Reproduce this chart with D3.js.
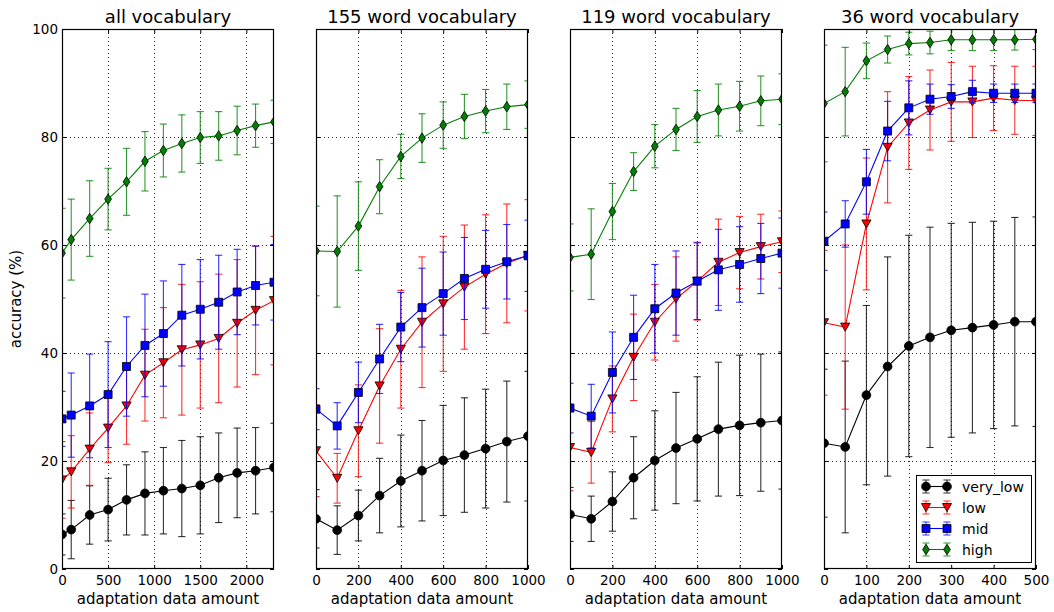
<!DOCTYPE html>
<html><head><meta charset="utf-8">
<script src="https://cdn.jsdelivr.net/npm/d3@7"></script>
<style>
body{margin:0;background:#fff}
svg{display:block}
text{font-family:"DejaVu Sans",sans-serif;fill:#000}
</style>
</head><body>
<svg id="chart" width="1054" height="612"></svg>
<script>
// ---------- data ----------
const seriesNames = ["very_low", "low", "mid", "high"];
const panelTitles = ["all vocabulary", "155 word vocabulary", "119 word vocabulary", "36 word vocabulary"];

const xsAll = [0,100,300,500,700,900,1100,1300,1500,1700,1900,2100,2300];
const xs155 = [0,100,200,300,400,500,600,700,800,900,1000];
const xs119 = [0,100,200,300,400,500,600,700,800,900,1000];
const xs36  = [0,50,100,150,200,250,300,350,400,450,500];

const xTicksAll = [0,500,1000,1500,2000];
const xTicks155 = [0,200,400,600,800,1000];
const xTicks119 = [0,200,400,600,800,1000];
const xTicks36  = [0,100,200,300,400,500];
const xMax = [2300, 1000, 1000, 500];
const yTicks = [0,20,40,60,80,100];

// all vocabulary
const allVeryLow    = [6.4,7.3,10.0,11.0,12.8,14.0,14.5,14.9,15.5,16.9,17.8,18.2,18.8];
const allVeryLowErr = [3.8,5.4,5.4,5.8,6.5,7.7,8.0,8.9,9.0,8.3,8.3,8.0,8.2];
const allLow        = [16.5,18.0,22.2,26.1,30.2,35.9,38.2,40.6,41.5,42.7,45.5,47.9,49.7];
const allLowErr     = [7.1,6.7,6.7,6.4,7.1,8.5,10.2,12.1,11.7,11.9,11.8,11.9,11.9];
const allMid        = [27.8,28.5,30.2,32.3,37.5,41.4,43.6,47.0,48.1,49.4,51.3,52.5,53.1];
const allMidErr     = [5.1,7.8,9.6,9.8,9.2,9.5,9.75,9.4,9.2,8.7,7.9,7.3,7.0];
const allHigh       = [58.5,61.0,64.9,68.5,71.7,75.5,77.5,78.8,79.9,80.2,81.2,82.1,82.8];
const allHighErr    = [8.3,7.5,7.0,5.7,6.2,5.5,4.9,5.3,4.8,4.5,4.5,4.0,4.0];

// 155 word vocabulary
const v155VeryLow    = [9.3,7.2,9.9,13.6,16.3,18.2,20.1,21.1,22.3,23.6,24.6];
const v155VeryLowErr = [5.4,4.5,4.7,6.9,8.5,9.3,10.2,10.6,11.0,11.2,12.0];
const v155Low        = [21.9,16.8,25.6,33.9,40.7,45.7,49.1,52.2,54.6,56.6,58.1];
const v155LowErr     = [8.5,4.6,8.5,10.6,10.9,12.1,12.5,11.5,11.0,11.0,10.3];
const v155Mid        = [29.6,26.5,32.7,38.9,44.8,48.4,51.0,53.8,55.5,56.9,58.0];
const v155MidErr     = [3.8,4.3,5.6,6.4,6.4,7.3,7.7,7.6,7.2,6.9,6.6];
const v155High       = [58.9,58.8,63.5,70.8,76.4,79.8,82.2,83.8,84.8,85.6,86.0];
const v155HighErr    = [8.3,10.3,8.2,5.0,4.1,4.5,4.3,4.1,4.0,4.2,4.4];

// 119 word vocabulary
const v119VeryLow    = [10.1,9.3,12.5,16.9,20.1,22.4,24.1,25.9,26.6,27.1,27.5];
const v119VeryLowErr = [5.0,4.2,5.5,7.6,9.2,10.3,11.5,12.4,13.0,12.7,12.7];
const v119Low        = [22.5,21.6,31.5,39.2,45.7,50.0,53.3,56.8,58.6,59.7,60.6];
const v119LowErr     = [8.0,5.7,6.1,8.0,7.0,7.8,7.2,8.0,6.7,6.0,5.7];
const v119Mid        = [29.8,28.3,36.4,42.9,48.2,51.1,53.3,55.4,56.4,57.5,58.5];
const v119MidErr     = [4.6,5.9,7.5,7.8,8.2,7.8,7.1,7.5,7.0,6.5,6.5];
const v119High       = [57.7,58.3,66.2,73.6,78.3,81.4,83.8,85.0,85.7,86.7,87.0];
const v119HighErr    = [6.2,8.4,5.2,3.5,4.0,3.9,4.8,4.8,4.6,4.6,4.7];

// 36 word vocabulary
const v36VeryLow    = [23.3,22.6,32.2,37.5,41.3,42.9,44.2,44.7,45.2,45.8,45.8];
const v36VeryLowErr = [13.7,15.9,16.6,20.3,20.5,20.4,19.8,19.5,19.2,19.3,19.4];
const v36Low        = [45.6,44.8,63.9,78.1,82.6,85.0,86.5,86.5,87.2,86.8,86.7];
const v36LowErr     = [13.4,15.2,12.2,10.3,8.6,7.4,7.3,6.6,6.0,6.3,6.4];
const v36Mid        = [60.7,63.9,71.7,81.1,85.4,87.0,87.5,88.4,88.1,88.1,88.1];
const v36MidErr     = [5.4,4.3,6.0,5.5,5.0,2.8,2.2,2.1,1.7,1.7,1.7];
const v36High       = [86.2,88.4,94.1,96.2,97.3,97.5,98.0,98.0,98.0,98.0,98.1];
const v36HighErr    = [10.8,8.2,3.3,2.5,2.1,2.1,2.0,2.0,2.0,1.9,1.9];

// ---------- styles ----------
const colors = ["#000000", "#ff0000", "#0000ff", "#008000"];
const shapes = [
  d3.symbol(d3.symbolCircle, Math.PI*4.4*4.4)(),
  "M-4.6,-4L4.6,-4L0,4.2Z",
  "M-4,-4H4V4H-4Z",
  "M0,-5.2L3.4,0L0,5.2L-3.4,0Z"
];

const panels = [
  {title: panelTitles[0], xs: xsAll, ticks: xTicksAll, max: xMax[0],
   vals: [allVeryLow, allLow, allMid, allHigh], errs: [allVeryLowErr, allLowErr, allMidErr, allHighErr]},
  {title: panelTitles[1], xs: xs155, ticks: xTicks155, max: xMax[1],
   vals: [v155VeryLow, v155Low, v155Mid, v155High], errs: [v155VeryLowErr, v155LowErr, v155MidErr, v155HighErr]},
  {title: panelTitles[2], xs: xs119, ticks: xTicks119, max: xMax[2],
   vals: [v119VeryLow, v119Low, v119Mid, v119High], errs: [v119VeryLowErr, v119LowErr, v119MidErr, v119HighErr]},
  {title: panelTitles[3], xs: xs36, ticks: xTicks36, max: xMax[3],
   vals: [v36VeryLow, v36Low, v36Mid, v36High], errs: [v36VeryLowErr, v36LowErr, v36MidErr, v36HighErr]}
];

const svg = d3.select("#chart");
const plotTop = 29, plotBottom = 569, pw = 212;
const lefts = [62, 316, 570, 824];
const y = d3.scaleLinear().domain([0,100]).range([plotBottom, plotTop]);
const capW = 3.6;

panels.forEach((p, pi) => {
  const x0 = lefts[pi];
  const x = d3.scaleLinear().domain([0, p.max]).range([x0, x0 + pw]);
  const g = svg.append("g");

  const clipId = "clip" + pi;
  svg.append("clipPath").attr("id", clipId)
    .append("rect").attr("x", x0).attr("y", plotTop).attr("width", pw).attr("height", plotBottom - plotTop);

  // grid
  const grid = g.append("g").attr("stroke", "#000").attr("stroke-width", 1)
    .attr("stroke-dasharray", "1,3").attr("opacity", 0.85);
  grid.selectAll("line.gx").data(p.ticks.filter(t => t > 0 && t < p.max)).join("line")
    .attr("class", "gx")
    .attr("x1", d => Math.round(x(d)) + 0.5).attr("x2", d => Math.round(x(d)) + 0.5)
    .attr("y1", plotTop).attr("y2", plotBottom);
  grid.selectAll("line.gy").data(yTicks.filter(t => t > 0 && t < 100)).join("line")
    .attr("class", "gy")
    .attr("x1", x0).attr("x2", x0 + pw)
    .attr("y1", d => Math.round(y(d)) + 0.5).attr("y2", d => Math.round(y(d)) + 0.5);

  // series
  const plot = g.append("g").attr("clip-path", `url(#${clipId})`);
  p.vals.forEach((vals, si) => {
    const errs = p.errs[si];
    const pts = p.xs.map((xv, i) => ({x: xv, v: vals[i], e: errs[i]}));
    const col = colors[si];
    const sg = plot.append("g");
    const eb = sg.append("g").attr("stroke", col).attr("stroke-width", 1.1).attr("stroke-opacity", 0.8);
    eb.selectAll("line.bar").data(pts).join("line").attr("class", "bar")
      .attr("x1", d => x(d.x)).attr("x2", d => x(d.x))
      .attr("y1", d => y(d.v + d.e)).attr("y2", d => y(d.v - d.e));
    eb.selectAll("line.capT").data(pts).join("line").attr("class", "capT")
      .attr("x1", d => x(d.x) - capW).attr("x2", d => x(d.x) + capW)
      .attr("y1", d => y(d.v + d.e)).attr("y2", d => y(d.v + d.e));
    eb.selectAll("line.capB").data(pts).join("line").attr("class", "capB")
      .attr("x1", d => x(d.x) - capW).attr("x2", d => x(d.x) + capW)
      .attr("y1", d => y(d.v - d.e)).attr("y2", d => y(d.v - d.e));
    sg.append("path").datum(pts)
      .attr("fill", "none").attr("stroke", col).attr("stroke-width", 1.1)
      .attr("d", d3.line().x(d => x(d.x)).y(d => y(d.v)));
    sg.selectAll("path.mk").data(pts).join("path").attr("class", "mk")
      .attr("d", shapes[si]).attr("fill", col).attr("stroke", "#000").attr("stroke-width", 0.8)
      .attr("transform", d => `translate(${x(d.x)},${y(d.v)})`);
  });

  // axes (ticks inward on all sides)
  const fmt = d3.format("d");
  const axB = g.append("g").attr("transform", `translate(0,${plotBottom})`)
    .call(d3.axisBottom(x).tickValues(p.ticks).tickFormat(fmt).tickSize(-4).tickSizeOuter(0).tickPadding(6.5));
  const axT = g.append("g").attr("transform", `translate(0,${plotTop})`)
    .call(d3.axisTop(x).tickValues(p.ticks).tickFormat("").tickSize(-4).tickSizeOuter(0));
  const axL = g.append("g").attr("transform", `translate(${x0},0)`)
    .call(d3.axisLeft(y).tickValues(yTicks).tickFormat(pi === 0 ? fmt : "").tickSize(-4).tickSizeOuter(0).tickPadding(4));
  const axR = g.append("g").attr("transform", `translate(${x0 + pw},0)`)
    .call(d3.axisRight(y).tickValues(yTicks).tickFormat("").tickSize(-4).tickSizeOuter(0));
  [axB, axT, axL, axR].forEach(a => {
    a.select(".domain").remove();
    a.selectAll("line").attr("stroke", "#000").attr("stroke-width", 1);
    a.selectAll("text").attr("font-family", "DejaVu Sans").attr("font-size", 13.5).attr("fill", "#000");
  });

  // frame
  g.append("rect").attr("x", x0 + 0.5).attr("y", plotTop + 0.5).attr("width", pw - 1).attr("height", plotBottom - plotTop - 1)
    .attr("fill", "none").attr("stroke", "#000").attr("stroke-width", 1.2);

  // titles
  g.append("text").attr("x", x0 + pw / 2).attr("y", 23).attr("text-anchor", "middle")
    .attr("font-size", 18).text(p.title);
  g.append("text").attr("x", x0 + pw / 2).attr("y", 604).attr("text-anchor", "middle")
    .attr("font-size", 15).text("adaptation data amount");
});

// y label
svg.append("text").attr("transform", `translate(21,${(plotTop + plotBottom) / 2}) rotate(-90)`)
  .attr("text-anchor", "middle").attr("font-size", 15).text("accuracy (%)");

// legend
const lg = svg.append("g");
lg.append("rect").attr("x", 916.5).attr("y", 475.5).attr("width", 115).attr("height", 87)
  .attr("fill", "#fff").attr("stroke", "#000").attr("stroke-width", 1);
seriesNames.forEach((name, i) => {
  const ly = 486.5 + i * 21;
  const col = colors[i];
  const ends = [926, 947];
  const row = lg.append("g");
  ends.forEach(ex => {
    row.append("line").attr("x1", ex).attr("x2", ex).attr("y1", ly - 6.5).attr("y2", ly + 6.5)
      .attr("stroke", col).attr("stroke-opacity", 0.8);
    [ly - 6.5, ly + 6.5].forEach(cy => row.append("line").attr("x1", ex - capW).attr("x2", ex + capW)
      .attr("y1", cy).attr("y2", cy).attr("stroke", col).attr("stroke-opacity", 0.8));
  });
  row.append("line").attr("x1", ends[0]).attr("x2", ends[1]).attr("y1", ly).attr("y2", ly)
    .attr("stroke", col).attr("stroke-width", 1.1);
  ends.forEach(ex => row.append("path").attr("d", shapes[i]).attr("fill", col)
    .attr("stroke", "#000").attr("stroke-width", 0.8).attr("transform", `translate(${ex},${ly})`));
  row.append("text").attr("x", 962).attr("y", ly + 5).attr("font-size", 14).text(name);
});
</script>
</body></html>
